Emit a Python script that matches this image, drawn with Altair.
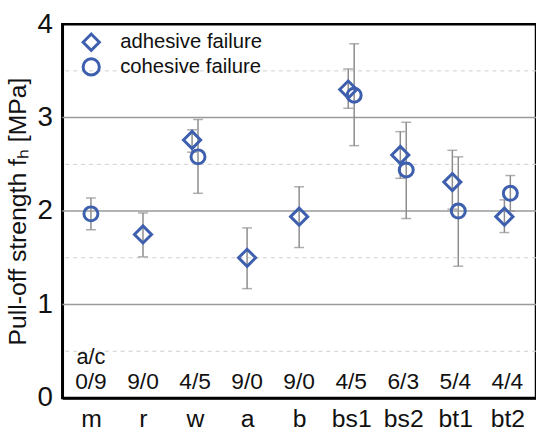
import altair as alt
import pandas as pd

categories = ["m", "r", "w", "a", "b", "bs1", "bs2", "bt1", "bt2"]
ratios = ["0/9", "9/0", "4/5", "9/0", "9/0", "4/5", "6/3", "5/4", "4/4"]

# adhesive failure (diamond): mean, lower, upper  (None = no adhesive failures)
adh_mean = [None, 1.75, 2.76, 1.50, 1.94, 3.30, 2.60, 2.31, 1.94]
adh_lo = [None, 1.51, 2.63, 1.17, 1.61, 3.10, 2.35, 2.02, 1.77]
adh_hi = [None, 1.98, 2.87, 1.82, 2.26, 3.52, 2.85, 2.65, 2.12]

# cohesive failure (circle)
coh_mean = [1.97, None, 2.58, None, None, 3.24, 2.44, 2.00, 2.19]
coh_lo = [1.80, None, 2.19, None, None, 2.70, 1.92, 1.41, 2.00]
coh_hi = [2.14, None, 2.98, None, None, 3.79, 2.95, 2.58, 2.38]

solid_grid = [1, 2, 3]
dashed_grid = [0.5, 1.5, 2.5, 3.5]

BLUE = "#3d5fae"
GREY = "#8c8c8c"
FONT = "Liberation Sans"
NARROW = "Liberation Sans Narrow, Liberation Sans"

rows = []
for i, c in enumerate(categories):
    both = adh_mean[i] is not None and coh_mean[i] is not None
    if adh_mean[i] is not None:
        rows.append(dict(cat=c, type="adhesive failure", mean=adh_mean[i],
                         lo=adh_lo[i], hi=adh_hi[i], off=-1 if both else 0))
    if coh_mean[i] is not None:
        rows.append(dict(cat=c, type="cohesive failure", mean=coh_mean[i],
                         lo=coh_lo[i], hi=coh_hi[i], off=1 if both else 0))
df = pd.DataFrame(rows)

x_enc = alt.X("cat:N", sort=categories,
              scale=alt.Scale(type="point", domain=categories, padding=0.55),
              axis=alt.Axis(title=None, labelFontSize=25, labelFont=FONT, labelColor="#111",
                            labelPadding=9, ticks=False, domainColor="black",
                            domainWidth=2.5, labelAngle=0))
xoff = alt.XOffset("off:Q", scale=alt.Scale(domain=[-1, 1], range=[-3, 3]))
y_scale = alt.Scale(domain=[0, 4], nice=False)
y_axis = alt.Axis(values=[0, 1, 2, 3, 4], format="d", grid=False, ticks=False, labelFontSize=28,
                  labelFont=NARROW, labelColor="#111", labelPadding=10, domainColor="black",
                  domainWidth=2.5, title="Pull-off strength fₕ [MPa]", titleFontSize=25,
                  titleFont=FONT, titleFontWeight="normal", titleColor="#111", titlePadding=7)

dashed = alt.Chart(pd.DataFrame({"v": dashed_grid})).mark_rule(
    color="#cccccc", strokeWidth=1, strokeDash=[4, 4]
).encode(y=alt.Y("v:Q", scale=y_scale, axis=y_axis))

solid = alt.Chart(pd.DataFrame({"v": solid_grid})).mark_rule(
    color="#9a9a9a", strokeWidth=1.5
).encode(y=alt.Y("v:Q", scale=y_scale))

base = alt.Chart(df)

err = base.mark_rule(color=GREY, strokeWidth=1.5).encode(
    x=x_enc, xOffset=xoff, y=alt.Y("lo:Q", scale=y_scale), y2="hi:Q")
cap_lo = base.mark_tick(color=GREY, thickness=1.5, size=10, orient="horizontal").encode(
    x=x_enc, xOffset=xoff, y=alt.Y("lo:Q", scale=y_scale))
cap_hi = base.mark_tick(color=GREY, thickness=1.5, size=10, orient="horizontal").encode(
    x=x_enc, xOffset=xoff, y=alt.Y("hi:Q", scale=y_scale))

points = base.mark_point(filled=False, strokeWidth=3, color=BLUE, opacity=1).encode(
    x=x_enc, xOffset=xoff, y=alt.Y("mean:Q", scale=y_scale),
    shape=alt.Shape("type:N",
                    scale=alt.Scale(domain=["adhesive failure", "cohesive failure"],
                                    range=["diamond", "circle"]),
                    legend=alt.Legend(title=None, orient="none", legendX=19, legendY=8,
                                      labelFontSize=20.5, labelFont=FONT, labelColor="#111",
                                      symbolStrokeColor=BLUE, symbolFillColor="transparent",
                                      symbolStrokeWidth=3, symbolSize=270, labelOffset=19,
                                      rowPadding=-5, padding=0)),
    size=alt.condition("datum.type == 'adhesive failure'", alt.value(300), alt.value(200)),
)

ratio_df = pd.DataFrame({"cat": categories, "ratio": ratios, "y": [0.1] * len(categories)})
ratio_text = alt.Chart(ratio_df).mark_text(fontSize=23, font=NARROW, color="#111",
                                           baseline="alphabetic").encode(
    x=x_enc, y=alt.Y("y:Q", scale=y_scale), text="ratio:N")

ac_df = pd.DataFrame({"cat": ["m"], "t": ["a/c"], "y": [0.36]})
ac_text = alt.Chart(ac_df).mark_text(fontSize=22, font=NARROW, color="#111",
                                     baseline="alphabetic").encode(
    x=x_enc, y=alt.Y("y:Q", scale=y_scale), text="t:N")

chart = alt.layer(dashed, solid, err, cap_lo, cap_hi, points, ratio_text, ac_text).properties(
    width=479, height=378,
    autosize=alt.AutoSizeParams(type="none"),
    padding={"left": 63, "top": 22, "right": 0, "bottom": 33},
    background="white",
).configure_view(stroke="black", strokeWidth=2.5)

chart.save("out.html", embed_options={"renderer": "svg", "actions": False})
